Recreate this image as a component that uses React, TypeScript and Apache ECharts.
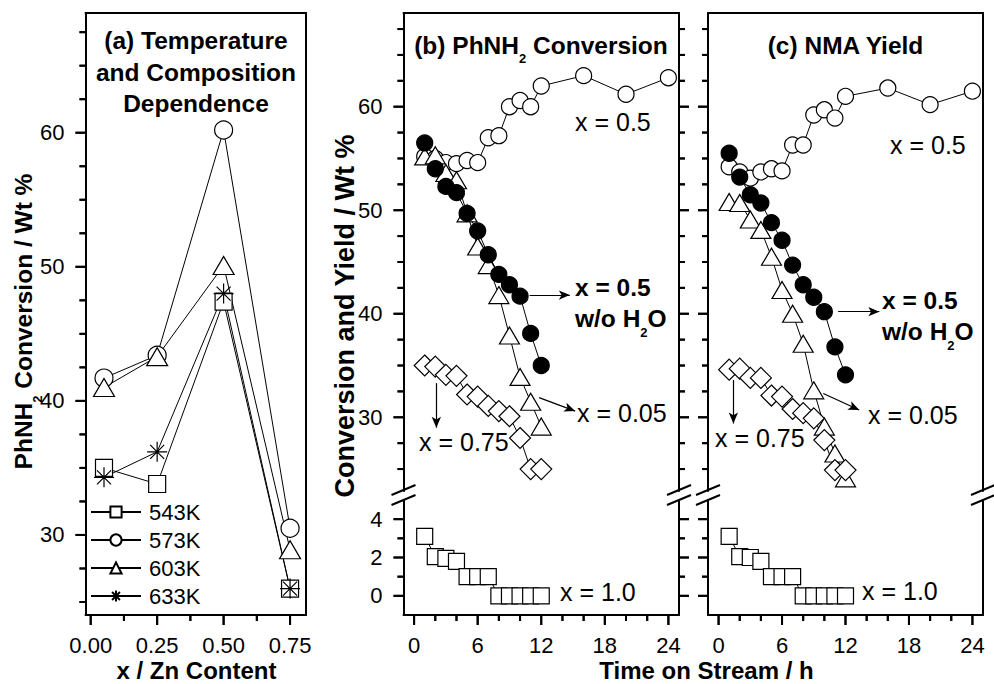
import React, { useEffect, useRef } from "react";
import * as echarts from "echarts";

const FONT = '"Liberation Sans", Arial, Helvetica, sans-serif';
const BLACK = "#000000";

// ---------- Panel (a): temperature and composition dependence ----------
const znContent = [0.05, 0.25, 0.5, 0.75];
const temperatureNames = ["543K", "573K", "603K", "633K"];
const conversion543K = [35.0, 33.8, 47.4, 26.0];
const conversion573K = [41.7, 43.4, 60.2, 30.5];
const conversion603K = [41.0, 43.3, 50.1, 28.9];
const conversion633K = [34.3, 36.2, 48.0, 26.0];
const znTicks = [0, 0.25, 0.5, 0.75];
const znMinorTicks = [0.125, 0.375, 0.625];
const convTicksA = [30, 40, 50, 60];
const convMinorTicksA = [25, 27.5, 32.5, 35, 37.5, 42.5, 45, 47.5, 52.5, 55, 57.5, 62.5, 65, 67.5];

// ---------- Panels (b) and (c): time on stream ----------
const hoursLong = [1, 2, 3, 4, 5, 6, 7, 8, 9, 10, 11, 12, 16, 20, 24];
const hours = [1, 2, 3, 4, 5, 6, 7, 8, 9, 10, 11, 12];

// (b) PhNH2 conversion
const convX050 = [55.2, 55.0, 54.6, 54.5, 54.8, 54.6, 57.0, 57.2, 60.0, 60.6, 60.0, 62.0, 63.0, 61.2, 62.8];
const convX005 = [55.2, 55.3, 53.6, 52.9, 49.7, 46.5, 44.7, 41.8, 37.9, 33.9, 31.5, 29.1];
const convX075 = [35.0, 34.9, 34.1, 34.0, 32.2, 32.0, 31.1, 30.6, 30.1, 28.0, 25.0, 25.0];
const convX050Dry = [56.5, 54.0, 52.3, 51.7, 49.7, 48.0, 45.7, 43.8, 42.8, 41.7, 38.1, 35.0];
const convX100 = [3.1, 2.05, 1.95, 1.8, 1.0, 1.0, 1.0, 0, 0, 0, 0, 0];

// (c) NMA yield
const yieldX050 = [54.2, 53.7, 53.1, 53.7, 54.0, 53.8, 56.3, 56.3, 59.2, 59.7, 58.9, 61.0, 61.8, 60.2, 61.5];
const yieldX005 = [50.8, 50.7, 49.1, 48.1, 45.5, 42.3, 40.0, 37.1, 32.6, 29.1, 26.5, 24.1];
const yieldX075 = [34.6, 34.7, 33.8, 33.8, 32.1, 32.0, 30.8, 30.4, 29.9, 27.8, 24.9, 24.9];
const yieldX050Dry = [55.5, 53.2, 51.5, 50.7, 48.8, 47.1, 44.7, 42.8, 41.6, 40.2, 36.8, 34.1];
const yieldX100 = [3.1, 2.05, 2.0, 1.8, 1.0, 1.0, 1.0, 0, 0, 0, 0, 0];

const timeTicks = [0, 6, 12, 18, 24];
const timeMinorTicks = [2, 4, 8, 10, 14, 16, 20, 22];
const upperTicks = [30, 40, 50, 60];
const upperMinorTicks = [25, 27.5, 32.5, 35, 37.5, 42.5, 45, 47.5, 52.5, 55, 57.5, 62.5, 65, 67.5];
const lowerTicks = [0, 2, 4];
const lowerMinorTicks = [1, 3];

// annotation arrows, in data coordinates: [from, to]
const arrowsB = [
  [[10.9, 41.8], [14.7, 41.8]],
  [[11.8, 31.9], [15.2, 30.6]],
  [[2.1, 33.3], [2.1, 29.0]],
];
const arrowsC = [
  [[11.3, 40.2], [15.2, 40.2]],
  [[9.9, 32.3], [13.3, 30.7]],
  [[1.4, 33.6], [1.4, 29.4]],
];

// axis ranges
const rangeZn = [-0.0196, 0.81];
const rangeConvA = [24.03, 68.93];
const rangeTime = [-1, 25];
const rangeUpper = [22.88, 69.05];
const rangeLower = [-1, 5];

// grid geometry (pixels)
type G = { left: number; top: number; width: number; height: number };
const GA: G = { left: 85.5, top: 13, width: 220.5, height: 602 };
const GBU: G = { left: 403.5, top: 13, width: 275.5, height: 478 };
const GBL: G = { left: 403.5, top: 500, width: 275.5, height: 115 };
const GCU: G = { left: 708, top: 13, width: 275, height: 478 };
const GCL: G = { left: 708, top: 500, width: 275, height: 115 };

const STAR = "path://M0 10L20 10M10 0L10 20M3 3L17 17M3 17L17 3";
const MAJOR = 10;
const MINOR = 6;
const TICK_W = 2;

type AxOpt = {
  grid: number;
  pos: string;
  range: number[];
  labels?: number[];
  fmt?: (v: number) => string;
  margin?: number;
};

function axis(o: AxOpt) {
  return {
    type: "value",
    gridIndex: o.grid,
    position: o.pos,
    min: o.range[0],
    max: o.range[1],
    silent: true,
    axisLine: { show: true, onZero: false, lineStyle: { color: BLACK, width: 2 } },
    axisTick: { show: false },
    axisLabel: o.labels
      ? {
          show: true,
          customValues: o.labels,
          formatter: o.fmt ?? ((v: number) => String(v)),
          color: BLACK,
          fontSize: 22,
          fontFamily: FONT,
          margin: o.margin,
        }
      : { show: false },
    splitLine: { show: false },
  };
}

function series(
  name: string,
  xi: number,
  yi: number,
  xs: number[],
  ys: number[],
  symbol: string,
  size: number | number[],
  fill: string,
  extra: any = {}
) {
  return {
    type: "line",
    name,
    xAxisIndex: xi,
    yAxisIndex: yi,
    data: xs.map((x, i) => [x, ys[i]]),
    symbol,
    symbolSize: size,
    showSymbol: true,
    showAllSymbol: true,
    clip: false,
    silent: true,
    lineStyle: { color: BLACK, width: 1 },
    itemStyle: { color: fill, borderColor: BLACK, borderWidth: 1.2, opacity: 1 },
    emphasis: { disabled: true },
    ...extra,
  };
}

// outward tick marks: thin bar symbols placed on the axes' own scales
function xTicks(xi: number, yi: number, yEdge: number, values: number[], len: number) {
  return {
    type: "scatter",
    xAxisIndex: xi,
    yAxisIndex: yi,
    data: values.map((v) => [v, yEdge]),
    symbol: "rect",
    symbolSize: [TICK_W, len],
    symbolOffset: [0, len / 2],
    clip: false,
    silent: true,
    z: 20,
    itemStyle: { color: BLACK, opacity: 1, borderWidth: 0 },
    emphasis: { disabled: true },
  };
}
function yTicks(xi: number, yi: number, xEdge: number, values: number[], len: number, dir: number) {
  return {
    type: "scatter",
    xAxisIndex: xi,
    yAxisIndex: yi,
    data: values.map((v) => [xEdge, v]),
    symbol: "rect",
    symbolSize: [len, TICK_W],
    symbolOffset: [(dir * len) / 2, 0],
    clip: false,
    silent: true,
    z: 20,
    itemStyle: { color: BLACK, opacity: 1, borderWidth: 0 },
    emphasis: { disabled: true },
  };
}

// the same ticks as graphic rectangles on the grids' linear scales
function tickRects(g: G, xr: number[], yr: number[], side: string, values: number[], len: number) {
  const out: any[] = [];
  values.forEach((v) => {
    if (side === "bottom") {
      const px = g.left + ((v - xr[0]) / (xr[1] - xr[0])) * g.width;
      out.push({ type: "rect", silent: true, z: 100, shape: { x: px - TICK_W / 2, y: g.top + g.height, width: TICK_W, height: len }, style: { fill: BLACK } });
    } else {
      const py = g.top + g.height - ((v - yr[0]) / (yr[1] - yr[0])) * g.height;
      const x0 = side === "left" ? g.left - len : g.left + g.width;
      out.push({ type: "rect", silent: true, z: 100, shape: { x: x0, y: py - TICK_W / 2, width: len, height: TICK_W }, style: { fill: BLACK } });
    }
  });
  return out;
}

function arrows(list: number[][][]) {
  return {
    silent: true,
    symbol: ["none", "arrow"],
    symbolSize: [7, 11],
    label: { show: false },
    emphasis: { disabled: true },
    lineStyle: { color: BLACK, width: 1.2, type: "solid" },
    data: list.map(([a, b]) => [{ coord: a }, { coord: b }]),
  };
}

function txt(x: number, y: number, text: string, size: number, bold: boolean, align = "left", rotation = 0) {
  return {
    type: "text",
    x,
    y,
    rotation,
    silent: true,
    style: {
      text,
      fill: BLACK,
      fontFamily: FONT,
      fontSize: size,
      fontWeight: bold ? "bold" : "normal",
      align,
      verticalAlign: "middle",
    },
  };
}

function subTxt(
  x: number,
  y: number,
  text: string,
  size: number,
  subSize: number,
  pad: number,
  align = "left",
  rotation = 0
) {
  return {
    type: "text",
    x,
    y,
    rotation,
    silent: true,
    style: {
      text,
      fill: BLACK,
      fontFamily: FONT,
      fontSize: size,
      fontWeight: "bold",
      align,
      verticalAlign: "middle",
      rich: {
        m: { fontFamily: FONT, fontSize: size, fontWeight: "bold", fill: BLACK },
        s: { fontFamily: FONT, fontSize: subSize, fontWeight: "bold", fill: BLACK, padding: [pad, 0, 0, 0] },
      },
    },
  };
}

function breakMarks(xs: number[]) {
  const out: any[] = [];
  xs.forEach((x) => {
    out.push({ type: "line", silent: true, z: 100, shape: { x1: x - 12, y1: 495, x2: x + 12, y2: 485 }, style: { stroke: BLACK, lineWidth: 2 } });
    out.push({ type: "line", silent: true, z: 100, shape: { x1: x - 12, y1: 505, x2: x + 12, y2: 495 }, style: { stroke: BLACK, lineWidth: 2 } });
  });
  return out;
}

export default function App() {
  const ref = useRef<HTMLDivElement>(null);

  useEffect(() => {
    if (!ref.current) return;
    const chart = echarts.init(ref.current, null, { renderer: "svg" });

    const xAxisMain = [
      axis({ grid: 0, pos: "bottom", range: rangeZn, labels: znTicks, fmt: (v) => v.toFixed(2), margin: 19 }), // 0
      axis({ grid: 0, pos: "top", range: rangeZn }), // 1
      axis({ grid: 1, pos: "top", range: rangeTime }), // 2
      axis({ grid: 2, pos: "bottom", range: rangeTime, labels: timeTicks, margin: 19 }), // 3
      axis({ grid: 3, pos: "top", range: rangeTime }), // 4
      axis({ grid: 4, pos: "bottom", range: rangeTime, labels: timeTicks, margin: 19 }), // 5
    ];
    const yAxisMain = [
      axis({ grid: 0, pos: "left", range: rangeConvA, labels: convTicksA, margin: 21 }), // 0
      axis({ grid: 0, pos: "right", range: rangeConvA }), // 1
      axis({ grid: 1, pos: "left", range: rangeUpper, labels: upperTicks, margin: 21 }), // 2
      axis({ grid: 1, pos: "right", range: rangeUpper }), // 3
      axis({ grid: 2, pos: "left", range: rangeLower, labels: lowerTicks, margin: 21 }), // 4
      axis({ grid: 2, pos: "right", range: rangeLower }), // 5
      axis({ grid: 3, pos: "left", range: rangeUpper }), // 6
      axis({ grid: 3, pos: "right", range: rangeUpper }), // 7
      axis({ grid: 4, pos: "left", range: rangeLower }), // 8
      axis({ grid: 4, pos: "right", range: rangeLower }), // 9
    ];

    const tickSeries = [
      xTicks(0, 0, rangeConvA[0], znTicks, MAJOR),
      xTicks(0, 0, rangeConvA[0], znMinorTicks, MINOR),
      yTicks(0, 0, rangeZn[0], convTicksA, MAJOR, -1),
      yTicks(0, 0, rangeZn[0], convMinorTicksA, MINOR, -1),
      yTicks(2, 2, rangeTime[0], upperTicks, MAJOR, -1),
      yTicks(2, 2, rangeTime[0], upperMinorTicks, MINOR, -1),
      yTicks(2, 2, rangeTime[1], upperTicks, MAJOR, 1),
      yTicks(2, 2, rangeTime[1], upperMinorTicks, MINOR, 1),
      xTicks(3, 4, rangeLower[0], timeTicks, MAJOR),
      xTicks(3, 4, rangeLower[0], timeMinorTicks, MINOR),
      yTicks(3, 4, rangeTime[0], lowerTicks, MAJOR, -1),
      yTicks(3, 4, rangeTime[0], lowerMinorTicks, MINOR, -1),
      yTicks(3, 4, rangeTime[1], lowerTicks, MAJOR, 1),
      yTicks(3, 4, rangeTime[1], lowerMinorTicks, MINOR, 1),
      yTicks(4, 6, rangeTime[0], upperTicks, MAJOR, -1),
      yTicks(4, 6, rangeTime[0], upperMinorTicks, MINOR, -1),
      xTicks(5, 8, rangeLower[0], timeTicks, MAJOR),
      xTicks(5, 8, rangeLower[0], timeMinorTicks, MINOR),
      yTicks(5, 8, rangeTime[0], lowerTicks, MAJOR, -1),
      yTicks(5, 8, rangeTime[0], lowerMinorTicks, MINOR, -1),
    ];

    const rectTicks = [
      ...tickRects(GA, rangeZn, rangeConvA, "bottom", znTicks, MAJOR),
      ...tickRects(GA, rangeZn, rangeConvA, "bottom", znMinorTicks, MINOR),
      ...tickRects(GA, rangeZn, rangeConvA, "left", convTicksA, MAJOR),
      ...tickRects(GA, rangeZn, rangeConvA, "left", convMinorTicksA, MINOR),
      ...tickRects(GBU, rangeTime, rangeUpper, "left", upperTicks, MAJOR),
      ...tickRects(GBU, rangeTime, rangeUpper, "left", upperMinorTicks, MINOR),
      ...tickRects(GBU, rangeTime, rangeUpper, "right", upperTicks, MAJOR),
      ...tickRects(GBU, rangeTime, rangeUpper, "right", upperMinorTicks, MINOR),
      ...tickRects(GBL, rangeTime, rangeLower, "bottom", timeTicks, MAJOR),
      ...tickRects(GBL, rangeTime, rangeLower, "bottom", timeMinorTicks, MINOR),
      ...tickRects(GBL, rangeTime, rangeLower, "left", lowerTicks, MAJOR),
      ...tickRects(GBL, rangeTime, rangeLower, "left", lowerMinorTicks, MINOR),
      ...tickRects(GBL, rangeTime, rangeLower, "right", lowerTicks, MAJOR),
      ...tickRects(GBL, rangeTime, rangeLower, "right", lowerMinorTicks, MINOR),
      ...tickRects(GCU, rangeTime, rangeUpper, "left", upperTicks, MAJOR),
      ...tickRects(GCU, rangeTime, rangeUpper, "left", upperMinorTicks, MINOR),
      ...tickRects(GCL, rangeTime, rangeLower, "bottom", timeTicks, MAJOR),
      ...tickRects(GCL, rangeTime, rangeLower, "bottom", timeMinorTicks, MINOR),
      ...tickRects(GCL, rangeTime, rangeLower, "left", lowerTicks, MAJOR),
      ...tickRects(GCL, rangeTime, rangeLower, "left", lowerMinorTicks, MINOR),
    ];

    const seriesList = [
      // (a)
      series(temperatureNames[0], 0, 0, znContent, conversion543K, "rect", 17, "#ffffff"),
      series(temperatureNames[1], 0, 0, znContent, conversion573K, "circle", 18, "#ffffff"),
      series(temperatureNames[2], 0, 0, znContent, conversion603K, "triangle", [21, 18], "#ffffff"),
      series(temperatureNames[3], 0, 0, znContent, conversion633K, STAR, 20, "#ffffff"),
      // (b) upper
      series("b x=0.5", 2, 2, hoursLong, convX050, "circle", 16, "#ffffff"),
      series("b x=0.05", 2, 2, hours, convX005, "triangle", [20, 17], "#ffffff"),
      series("b x=0.75", 2, 2, hours, convX075, "diamond", [21, 21], "#ffffff"),
      series("b x=0.5 dry", 2, 2, hours, convX050Dry, "circle", 16, BLACK, { markLine: arrows(arrowsB) }),
      // (b) lower
      series("b x=1.0", 3, 4, hours, convX100, "rect", 16, "#ffffff"),
      // (c) upper
      series("c x=0.5", 4, 6, hoursLong, yieldX050, "circle", 16, "#ffffff"),
      series("c x=0.05", 4, 6, hours, yieldX005, "triangle", [20, 17], "#ffffff"),
      series("c x=0.75", 4, 6, hours, yieldX075, "diamond", [21, 21], "#ffffff"),
      series("c x=0.5 dry", 4, 6, hours, yieldX050Dry, "circle", 16, BLACK, { markLine: arrows(arrowsC) }),
      // (c) lower
      series("c x=1.0", 5, 8, hours, yieldX100, "rect", 16, "#ffffff"),
      ...tickSeries,
    ];

    const graphics: any[] = [
      // titles
      txt(196, 40, "(a) Temperature", 24.5, true, "center"),
      txt(196, 72, "and Composition", 24.5, true, "center"),
      txt(196, 103, "Dependence", 24.5, true, "center"),
      subTxt(541, 45, "{m|(b) PhNH}{s|2}{m| }{m|Conversion}", 24.5, 13, 26, "center"),
      txt(845.5, 45, "(c) NMA Yield", 24.5, true, "center"),
      // axis names
      subTxt(23, 321.5, "{m|PhNH}{s|2}{m| }{m|Conversion / Wt %}", 24.5, 13, 28, "center", Math.PI / 2),
      txt(345, 316, "Conversion and Yield / Wt %", 27, true, "center", Math.PI / 2),
      txt(196.5, 670, "x / Zn Content", 24, true, "center"),
      txt(706.5, 670, "Time on Stream / h", 24, true, "center"),
      // annotations (b)
      txt(575, 122, "x = 0.5", 25, false),
      txt(575, 287.5, "x = 0.5", 24.5, true),
      subTxt(575, 318, "{m|w/o H}{s|2}{m|O}", 24.5, 13, 28, "left"),
      txt(577, 413, "x = 0.05", 25, false),
      txt(419, 442, "x = 0.75", 25, false),
      txt(560, 592, "x = 1.0", 25, false),
      // annotations (c)
      txt(890, 145, "x = 0.5", 25, false),
      txt(882, 300, "x = 0.5", 24.5, true),
      subTxt(882, 331, "{m|w/o H}{s|2}{m|O}", 24.5, 13, 28, "left"),
      txt(868, 415, "x = 0.05", 25, false),
      txt(715, 438, "x = 0.75", 25, false),
      txt(862, 591, "x = 1.0", 25, false),
      ...breakMarks([403.5, 679, 708, 983]),
      ...rectTicks,
    ];

    chart.setOption({
      animation: false,
      backgroundColor: "#ffffff",
      textStyle: { fontFamily: FONT },
      grid: [GA, GBU, GBL, GCU, GCL],
      legend: {
        data: temperatureNames,
        orient: "vertical",
        left: 90,
        top: 501,
        itemGap: 6,
        itemWidth: 50,
        itemHeight: 14,
        padding: 0,
        selectedMode: false,
        textStyle: { fontFamily: FONT, fontSize: 22, color: BLACK, lineHeight: 22, padding: [0, 0, 0, 3] },
      },
      xAxis: xAxisMain,
      yAxis: yAxisMain,
      series: seriesList,
      graphic: graphics,
    });

    return () => chart.dispose();
  }, []);

  return (
    <div
      ref={ref}
      style={{ position: "fixed", left: 0, top: 0, width: 994, height: 684, background: "#ffffff" }}
    />
  );
}
